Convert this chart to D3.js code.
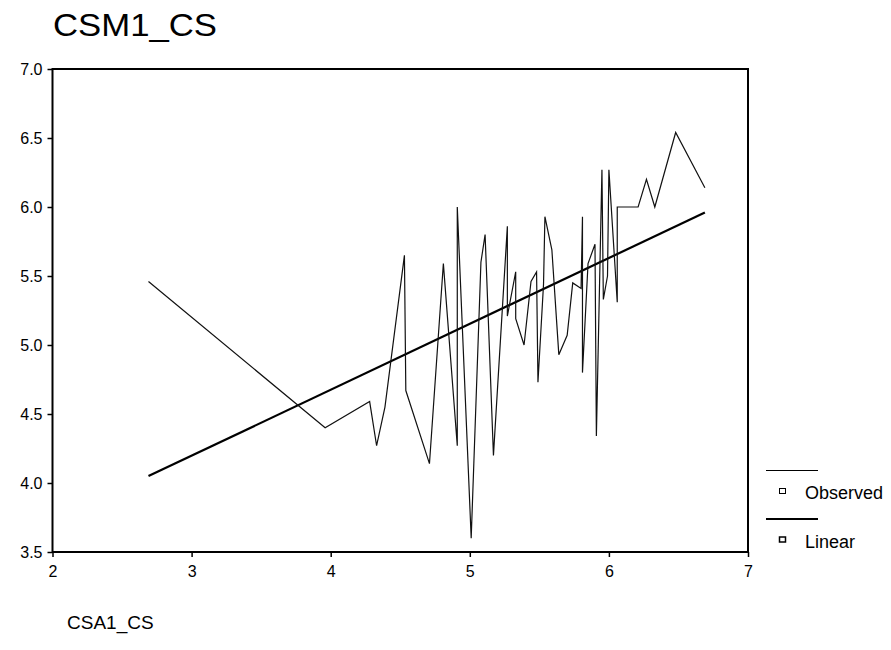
<!DOCTYPE html>
<html>
<head>
<meta charset="utf-8">
<script src="https://d3js.org/d3.v7.min.js"></script>
<style>
  body { margin: 0; background: #fff; }
  svg text { font-family: "Liberation Sans", Arial, sans-serif; fill: #000; }
</style>
</head>
<body>
<svg width="891" height="650"></svg>
<script>
// observed values, sorted by CSA1_CS
var obsX = [2.69, 3.96, 4.28, 4.33, 4.39, 4.53, 4.54, 4.71, 4.81, 4.91, 4.91, 5.01, 5.08, 5.11, 5.17,
  5.27, 5.27, 5.33, 5.33, 5.39, 5.44, 5.48, 5.49, 5.53, 5.54, 5.59, 5.64, 5.70, 5.74, 5.80,
  5.81, 5.81, 5.85, 5.90, 5.91, 5.95, 5.96, 5.99, 6.00, 6.06, 6.06, 6.21, 6.27, 6.33, 6.48, 6.69];
var obsY = [5.46, 4.40, 4.59, 4.27, 4.55, 5.65, 4.67, 4.14, 5.59, 4.27, 6.00, 3.60, 5.60, 5.80, 4.20,
  5.86, 5.21, 5.53, 5.19, 5.00, 5.46, 5.53, 4.73, 5.44, 5.93, 5.69, 4.93, 5.07, 5.45, 5.41,
  5.93, 4.80, 5.59, 5.73, 4.34, 6.27, 5.33, 5.50, 6.27, 5.31, 6.00, 6.00, 6.20, 6.00, 6.54, 6.14];

// linear fit, read at its two ends
var linX = [2.69, 6.69];
var linY = [4.05, 5.96];

var xTicks = [2, 3, 4, 5, 6, 7];
var yTicks = [3.5, 4.0, 4.5, 5.0, 5.5, 6.0, 6.5, 7.0];
var legendNames = ["Observed", "Linear"];

var svg = d3.select("svg");
// plot box (note: "top" is taken by window.top)
var plotL = 52.5, plotR = 748, plotT = 69, plotB = 552;

var x = d3.scaleLinear().domain([2, 7]).range([plotL, plotR]);
var y = d3.scaleLinear().domain([3.5, 7]).range([plotB, plotT]);

// title
svg.append("text")
  .attr("x", 53).attr("y", 36)
  .attr("font-size", 31)
  .attr("textLength", 164).attr("lengthAdjust", "spacingAndGlyphs")
  .text("CSM1_CS");

// axes
var xAxis = svg.append("g")
  .attr("transform", "translate(0," + plotB + ")")
  .call(d3.axisBottom(x).tickValues(xTicks).tickSize(5).tickPadding(9).tickFormat(d3.format("d")));
var yAxis = svg.append("g")
  .attr("transform", "translate(" + plotL + ",0)")
  .call(d3.axisLeft(y).tickValues(yTicks).tickSize(5).tickPadding(5).tickFormat(d3.format(".1f")));

[xAxis, yAxis].forEach(function(a) {
  a.select(".domain").remove();
  a.selectAll("line").attr("stroke", "#000").attr("stroke-width", 1.5);
  a.selectAll("text").attr("font-size", 16).attr("font-family", null);
});

// frame
svg.append("rect")
  .attr("x", plotL).attr("y", plotT)
  .attr("width", plotR - plotL).attr("height", plotB - plotT)
  .attr("fill", "none").attr("stroke", "#000").attr("stroke-width", 2);

var line = d3.line()
  .x(function(d) { return x(d[0]); })
  .y(function(d) { return y(d[1]); });

svg.append("path")
  .datum(d3.zip(linX, linY))
  .attr("d", line)
  .attr("fill", "none").attr("stroke", "#000").attr("stroke-width", 2.2);

svg.append("path")
  .datum(d3.zip(obsX, obsY))
  .attr("d", line)
  .attr("fill", "none").attr("stroke", "#111").attr("stroke-width", 1.2)
  .attr("stroke-linejoin", "miter");

// x axis title
svg.append("text")
  .attr("x", 67).attr("y", 629)
  .attr("font-size", 19)
  .text("CSA1_CS");

// legend
var leg = svg.append("g").selectAll("g")
  .data(legendNames)
  .enter().append("g")
  .attr("transform", function(d, i) { return "translate(0," + (i * 48.5) + ")"; });

leg.append("line")
  .attr("x1", 766).attr("x2", 818)
  .attr("y1", 470.5).attr("y2", 470.5)
  .attr("stroke", "#000")
  .attr("stroke-width", function(d, i) { return i === 0 ? 1 : 2; });

leg.append("rect")
  .attr("x", 779.5).attr("y", 488.5)
  .attr("width", 6).attr("height", 5)
  .attr("fill", "none").attr("stroke", "#000")
  .attr("stroke-width", function(d, i) { return i === 0 ? 1 : 1.5; });

leg.append("text")
  .attr("x", 805).attr("y", 499)
  .attr("font-size", 18)
  .text(function(d) { return d; });
</script>
</body>
</html>
